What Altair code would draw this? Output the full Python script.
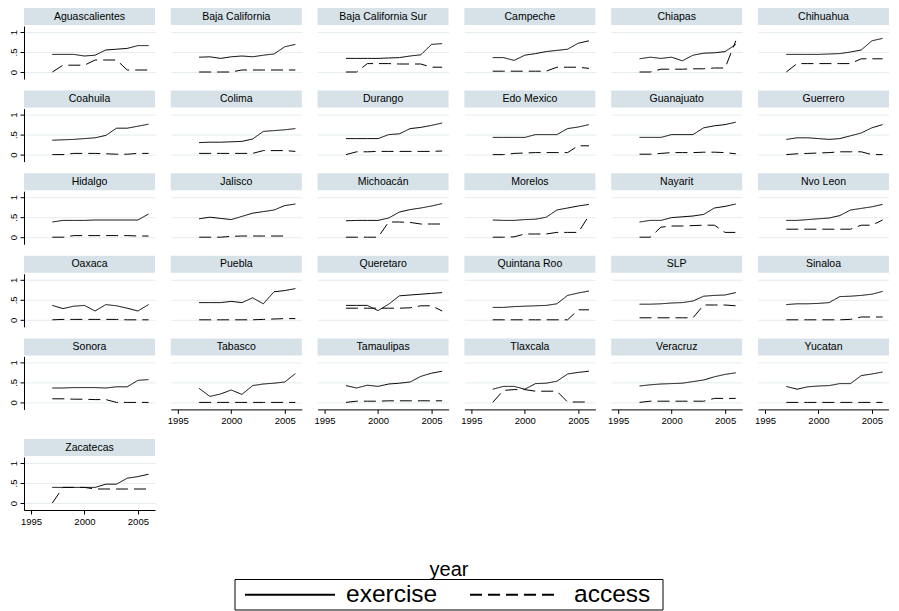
import altair as alt
import pandas as pd

years = list(range(1997, 2007))

states = ["Aguascalientes", "Baja California", "Baja California Sur", "Campeche", "Chiapas", "Chihuahua",
          "Coahuila", "Colima", "Durango", "Edo Mexico", "Guanajuato", "Guerrero",
          "Hidalgo", "Jalisco", "Michoacán", "Morelos", "Nayarit", "Nvo Leon",
          "Oaxaca", "Puebla", "Queretaro", "Quintana Roo", "SLP", "Sinaloa",
          "Sonora", "Tabasco", "Tamaulipas", "Tlaxcala", "Veracruz", "Yucatan",
          "Zacatecas"]

exercise = [
    [0.44, 0.44, 0.44, 0.40, 0.42, 0.55, 0.57, 0.59, 0.66, 0.66],
    [0.37, 0.38, 0.34, 0.38, 0.40, 0.38, 0.42, 0.45, 0.63, 0.69],
    [0.34, 0.34, 0.34, 0.34, 0.35, 0.36, 0.40, 0.43, 0.69, 0.71],
    [0.36, 0.36, 0.29, 0.42, 0.46, 0.51, 0.54, 0.57, 0.72, 0.78],
    [0.33, 0.37, 0.34, 0.37, 0.28, 0.42, 0.47, 0.48, 0.51, 0.69],
    [0.44, 0.44, 0.44, 0.44, 0.45, 0.46, 0.50, 0.55, 0.78, 0.84],
    [0.36, 0.37, 0.38, 0.40, 0.42, 0.48, 0.66, 0.66, 0.71, 0.76],
    [0.30, 0.31, 0.31, 0.32, 0.33, 0.39, 0.58, 0.60, 0.62, 0.65],
    [0.40, 0.40, 0.40, 0.40, 0.50, 0.52, 0.65, 0.68, 0.73, 0.79],
    [0.43, 0.43, 0.43, 0.43, 0.50, 0.50, 0.50, 0.65, 0.69, 0.75],
    [0.43, 0.43, 0.43, 0.50, 0.50, 0.50, 0.67, 0.72, 0.75, 0.81],
    [0.38, 0.42, 0.42, 0.40, 0.38, 0.40, 0.47, 0.54, 0.67, 0.75],
    [0.38, 0.42, 0.42, 0.42, 0.43, 0.43, 0.43, 0.43, 0.43, 0.58],
    [0.46, 0.50, 0.47, 0.44, 0.52, 0.60, 0.64, 0.68, 0.79, 0.83],
    [0.41, 0.42, 0.42, 0.42, 0.48, 0.63, 0.69, 0.73, 0.78, 0.84],
    [0.43, 0.42, 0.42, 0.44, 0.45, 0.50, 0.68, 0.73, 0.78, 0.82],
    [0.38, 0.42, 0.42, 0.49, 0.51, 0.53, 0.57, 0.73, 0.77, 0.83],
    [0.42, 0.42, 0.44, 0.46, 0.48, 0.54, 0.68, 0.72, 0.76, 0.82],
    [0.36, 0.28, 0.34, 0.36, 0.22, 0.38, 0.35, 0.29, 0.22, 0.38],
    [0.43, 0.43, 0.43, 0.46, 0.43, 0.55, 0.40, 0.70, 0.73, 0.78],
    [0.36, 0.36, 0.36, 0.23, 0.39, 0.60, 0.62, 0.64, 0.66, 0.68],
    [0.31, 0.31, 0.33, 0.34, 0.35, 0.36, 0.40, 0.61, 0.67, 0.72],
    [0.39, 0.39, 0.40, 0.42, 0.43, 0.47, 0.59, 0.61, 0.62, 0.68],
    [0.38, 0.40, 0.40, 0.41, 0.43, 0.58, 0.59, 0.61, 0.64, 0.71],
    [0.36, 0.36, 0.37, 0.37, 0.37, 0.36, 0.39, 0.39, 0.55, 0.57],
    [0.35, 0.15, 0.21, 0.31, 0.20, 0.42, 0.46, 0.48, 0.51, 0.72],
    [0.42, 0.36, 0.43, 0.40, 0.46, 0.48, 0.51, 0.65, 0.73, 0.78],
    [0.33, 0.40, 0.40, 0.33, 0.47, 0.48, 0.53, 0.71, 0.75, 0.78],
    [0.41, 0.44, 0.46, 0.47, 0.48, 0.52, 0.56, 0.64, 0.70, 0.74],
    [0.40, 0.33, 0.39, 0.41, 0.42, 0.47, 0.47, 0.67, 0.71, 0.76],
    [0.39, 0.39, 0.39, 0.39, 0.39, 0.47, 0.47, 0.62, 0.66, 0.72],
]

access = [
    [0.00, 0.17, 0.17, 0.17, 0.30, 0.30, 0.30, 0.05, 0.05, 0.05],
    [0.00, 0.00, 0.00, 0.00, 0.05, 0.05, 0.05, 0.05, 0.05, 0.05],
    [0.00, 0.00, 0.21, 0.21, 0.21, 0.20, 0.20, 0.20, 0.12, 0.12],
    [0.02, 0.02, 0.02, 0.02, 0.02, 0.02, 0.12, 0.12, 0.12, 0.09],
    [0.00, 0.00, 0.07, 0.07, 0.07, 0.08, 0.08, 0.10, 0.10, 0.78],
    [0.00, 0.21, 0.21, 0.21, 0.21, 0.21, 0.21, 0.33, 0.33, 0.33],
    [0.00, 0.00, 0.03, 0.03, 0.03, 0.02, 0.01, 0.01, 0.03, 0.03],
    [0.03, 0.03, 0.03, 0.03, 0.03, 0.03, 0.10, 0.10, 0.10, 0.08],
    [0.00, 0.07, 0.07, 0.08, 0.08, 0.08, 0.08, 0.08, 0.08, 0.09],
    [0.00, 0.00, 0.03, 0.04, 0.05, 0.05, 0.05, 0.05, 0.22, 0.22],
    [0.01, 0.01, 0.03, 0.05, 0.05, 0.05, 0.06, 0.06, 0.05, 0.02],
    [0.00, 0.02, 0.03, 0.04, 0.05, 0.07, 0.07, 0.07, 0.00, 0.00],
    [0.00, 0.00, 0.04, 0.04, 0.04, 0.04, 0.04, 0.04, 0.03, 0.03],
    [0.00, 0.00, 0.00, 0.02, 0.03, 0.03, 0.03, 0.03, 0.03, None],
    [0.00, 0.00, 0.00, 0.00, 0.38, 0.38, 0.37, 0.33, 0.33, 0.33],
    [0.00, 0.00, 0.01, 0.08, 0.08, 0.08, 0.12, 0.12, 0.12, 0.54],
    [0.00, 0.00, 0.25, 0.28, 0.28, 0.29, 0.30, 0.30, 0.12, 0.12],
    [0.20, 0.20, 0.20, 0.20, 0.20, 0.20, 0.20, 0.30, 0.30, 0.43],
    [0.00, 0.01, 0.01, 0.01, 0.01, 0.01, 0.01, 0.00, 0.00, 0.00],
    [0.00, 0.00, 0.00, 0.00, 0.00, 0.00, 0.01, 0.02, 0.03, 0.03],
    [0.29, 0.29, 0.29, 0.29, 0.29, 0.29, 0.30, 0.35, 0.35, 0.22],
    [0.00, 0.00, 0.00, 0.00, 0.00, 0.00, 0.00, 0.00, 0.25, 0.25],
    [0.05, 0.05, 0.05, 0.05, 0.05, 0.05, 0.37, 0.37, 0.37, 0.35],
    [0.00, 0.00, 0.00, 0.00, 0.00, 0.00, 0.01, 0.07, 0.07, 0.07],
    [0.09, 0.09, 0.08, 0.08, 0.07, 0.07, 0.00, 0.00, 0.00, 0.00],
    [0.00, 0.00, 0.00, 0.00, 0.00, 0.00, 0.00, 0.00, 0.00, 0.00],
    [0.00, 0.03, 0.03, 0.03, 0.04, 0.04, 0.04, 0.04, 0.04, 0.04],
    [0.00, 0.30, 0.32, 0.32, 0.28, 0.28, 0.28, 0.01, 0.01, 0.01],
    [0.00, 0.03, 0.03, 0.03, 0.03, 0.03, 0.03, 0.10, 0.10, 0.10],
    [0.00, 0.00, 0.00, 0.00, 0.00, 0.00, 0.00, 0.00, 0.00, 0.00],
    [0.00, 0.39, 0.39, 0.39, 0.35, 0.35, 0.35, 0.35, 0.35, 0.35],
]

series_names = ["exercise", "access"]
series_dash = [[1, 0], [12, 6]]
x_ticks = [1995, 2000, 2005]
y_ticks = [0, 0.5, 1]
x_title = "year"

FONT = "Liberation Sans"
W, H = 131, 53
COL_SP = 15.8
STRIP = "#d6e2e8"
GRID = "#e4ecef"
YDOM = [-0.175, 1.15]
XDOM = [1994.35, 2006.6]
NCOL = 6
DASH_SCALE = alt.Scale(domain=series_names, range=series_dash)


def panel(i, show_y, show_x):
    name = states[i]
    df = pd.DataFrame({
        "year": years * 2,
        "value": exercise[i] + access[i],
        "series": [series_names[0]] * len(years) + [series_names[1]] * len(years),
    }).dropna()

    if show_x:
        x_axis = alt.Axis(values=x_ticks, format="d", title=None, grid=False,
                          labelFontSize=9.5, labelFont=FONT, labelColor="black",
                          tickSize=4, tickColor="black", domainColor="black",
                          labelPadding=2, labelFlush=False)
    else:
        x_axis = None
    if show_y:
        y_axis = alt.Axis(values=y_ticks, title=None, grid=True, gridColor=GRID,
                          labelExpr="datum.value == 0.5 ? '.5' : (datum.value == 1 ? '1' : '0')",
                          labelAngle=270, labelFontSize=9.5, labelFont=FONT,
                          labelColor="black", tickSize=4, tickColor="black",
                          domainColor="black", labelPadding=2)
    else:
        y_axis = alt.Axis(values=y_ticks, title=None, grid=True, gridColor=GRID,
                          labels=False, ticks=False, domain=False)

    lines = alt.Chart(df).mark_line(strokeWidth=1, color="black").encode(
        x=alt.X("year:Q", scale=alt.Scale(domain=XDOM, nice=False, zero=False), axis=x_axis),
        y=alt.Y("value:Q", scale=alt.Scale(domain=YDOM, nice=False, zero=False), axis=y_axis),
        strokeDash=alt.StrokeDash("series:N", scale=DASH_SCALE, legend=None),
        order="year:Q",
    )
    lab = pd.DataFrame({"state": [name]})
    strip = alt.Chart(lab).mark_rect(color=STRIP).encode(
        x=alt.value(0), x2=alt.value(W), y=alt.value(-18), y2=alt.value(-1))
    text = alt.Chart(lab).mark_text(fontSize=10.5, font=FONT, color="black", baseline="middle").encode(
        text="state:N", x=alt.value(W / 2), y=alt.value(-9.5))
    return alt.layer(strip, text, lines).properties(width=W, height=H)


n = len(states)
rows = []
for r in range((n + NCOL - 1) // NCOL):
    cells = []
    for c in range(NCOL):
        i = r * NCOL + c
        if i >= n:
            break
        below = i + NCOL
        cells.append(panel(i, show_y=(c == 0), show_x=(below >= n)))
    rows.append(alt.hconcat(*cells, spacing=COL_SP, bounds="flush"))

# footer: x-axis title and legend (coordinates relative to the first panel's left edge)
FW = NCOL * W + (NCOL - 1) * COL_SP
FH = 85
LX0, LY0, LX1, LY1 = 211, 53.5, 639, 84
LYC = (LY0 + LY1) / 2

title_df = pd.DataFrame({"t": [x_title]})
ex_df = pd.DataFrame({"series": [series_names[0]]})
ac_df = pd.DataFrame({"series": [series_names[1]]})

title_mark = alt.Chart(title_df).mark_text(
    fontSize=20, font=FONT, color="black", baseline="middle").encode(
    text="t:N", x=alt.value(425), y=alt.value(43.5))
box = alt.Chart(title_df).mark_rect(fill="white", stroke="black", strokeWidth=1).encode(
    x=alt.value(LX0), x2=alt.value(LX1), y=alt.value(LY0), y2=alt.value(LY1))
ex_line = alt.Chart(ex_df).mark_rule(color="black", strokeWidth=2).encode(
    x=alt.value(LX0 + 10), x2=alt.value(LX0 + 100), y=alt.value(LYC),
    strokeDash=alt.StrokeDash("series:N", scale=DASH_SCALE, legend=None))
ex_text = alt.Chart(ex_df).mark_text(
    fontSize=24.5, font=FONT, color="black", baseline="middle", align="left").encode(
    text="series:N", x=alt.value(LX0 + 111), y=alt.value(LYC))
ac_line = alt.Chart(ac_df).mark_rule(color="black", strokeWidth=2).encode(
    x=alt.value(LX0 + 235), x2=alt.value(LX0 + 325), y=alt.value(LYC),
    strokeDash=alt.StrokeDash("series:N", scale=DASH_SCALE, legend=None))
ac_text = alt.Chart(ac_df).mark_text(
    fontSize=24.5, font=FONT, color="black", baseline="middle", align="left").encode(
    text="series:N", x=alt.value(LX0 + 339), y=alt.value(LYC))

footer = alt.layer(title_mark, box, ex_line, ex_text, ac_line, ac_text).properties(width=FW, height=FH)

top_block = alt.vconcat(*rows[:5], spacing=11.6)
grid_block = alt.vconcat(top_block, *rows[5:], spacing=14)
chart = alt.vconcat(grid_block, footer, spacing=0).properties(
    padding=0, background="white").configure_view(strokeWidth=0)

chart.save("out.html", embed_options={"renderer": "svg", "actions": False})
